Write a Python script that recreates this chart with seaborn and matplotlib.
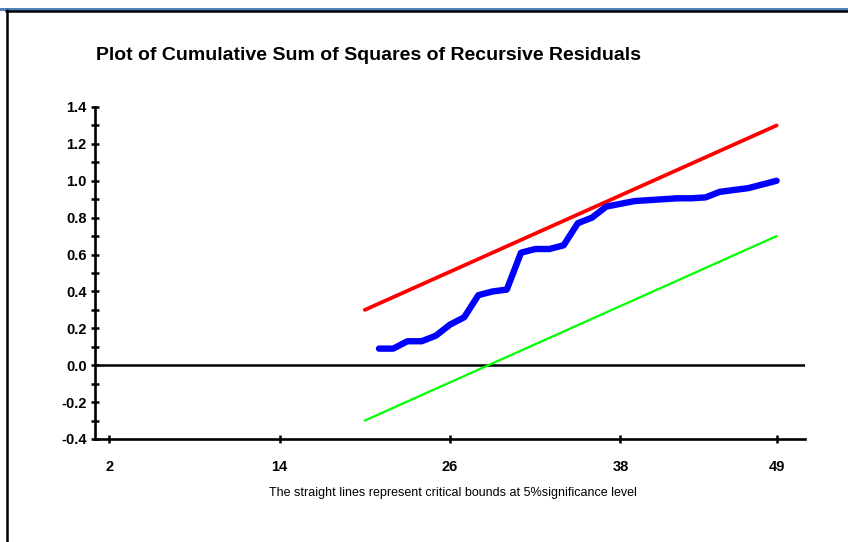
import numpy as np
import pandas as pd
import matplotlib
matplotlib.use('Agg')
import matplotlib.pyplot as plt
from matplotlib.lines import Line2D
from matplotlib.ticker import MultipleLocator
import seaborn as sns

# Valores (CUSUM dos quadrados dos resíduos recursivos)
t_obs = [21, 22, 23, 24, 25, 26, 27, 28, 29, 30, 31, 32, 33, 34, 35,
         36, 37, 38, 39, 40, 41, 42, 43, 44, 45, 46, 47, 48, 49]
cusumsq = [0.09, 0.09, 0.13, 0.13, 0.16, 0.22, 0.26, 0.38, 0.40, 0.41, 0.61, 0.63, 0.63, 0.65, 0.77,
           0.80, 0.86, 0.875, 0.89, 0.895, 0.90, 0.905, 0.905, 0.91, 0.94, 0.95, 0.96, 0.98, 1.00]

# Limites críticos a 5% (retas)
t_bound = [20, 49]
upper_bound = [0.30, 1.30]
lower_bound = [-0.30, 0.70]

x_ticks = [2, 14, 26, 38, 49]

titulo = 'Plot of Cumulative Sum of Squares of Recursive Residuals'
nota = 'The straight lines represent critical bounds at 5%significance level'

sns.set_style('white')
plt.rcParams['font.family'] = ['Liberation Sans', 'DejaVu Sans']
plt.rcParams['text.color'] = 'black'
plt.rcParams['xtick.color'] = 'black'
plt.rcParams['ytick.color'] = 'black'
plt.rcParams['xtick.labelcolor'] = 'black'
plt.rcParams['ytick.labelcolor'] = 'black'

fig = plt.figure(figsize=(8.48, 5.42), dpi=100)
ax = fig.add_axes([95 / 848, 1 - 439 / 542, (805 - 95) / 848, (439 - 107) / 542])

df_obs = pd.DataFrame({'t': t_obs, 'v': cusumsq})
df_b = pd.DataFrame({'t': t_bound, 'up': upper_bound, 'lo': lower_bound})

sns.lineplot(data=df_b, x='t', y='up', color='#ff0000', linewidth=2.7, ax=ax)
sns.lineplot(data=df_b, x='t', y='lo', color='#00ff00', linewidth=1.6, ax=ax)
sns.lineplot(data=df_obs, x='t', y='v', color='#0000ff', linewidth=4.6, ax=ax)
ax.axhline(0, color='black', linewidth=1.8, zorder=1)

ax.set_xlim(1, 51)
ax.set_ylim(-0.4, 1.4)
ax.set_xticks(x_ticks)
ax.yaxis.set_major_locator(MultipleLocator(0.2))
ax.yaxis.set_minor_locator(MultipleLocator(0.1))
ax.set_yticklabels([f'{v:.1f}' for v in ax.get_yticks()])
ax.set_xlabel('')
ax.set_ylabel('')

for s in ['top', 'right']:
    ax.spines[s].set_visible(False)
for s in ['left', 'bottom']:
    ax.spines[s].set_color('black')
    ax.spines[s].set_linewidth(1.9)

ax.tick_params(axis='y', which='both', direction='inout', length=6, width=1.8, left=True,
               labelsize=10.5, pad=3, colors='black')
ax.tick_params(axis='x', which='major', direction='inout', length=6, width=1.8, bottom=True,
               labelsize=10.5, pad=12, colors='black')
for lbl in ax.get_xticklabels() + ax.get_yticklabels():
    lbl.set_fontweight('bold')

fig.text(96 / 848, 1 - 55 / 542, titulo, fontsize=14, fontweight='bold', va='center', ha='left',
         color='black')
fig.text(453 / 848, 1 - 493 / 542, nota, fontsize=9, va='center', ha='center', color='black')

# moldura
fig.add_artist(Line2D([0, 1], [1 - 8.5 / 542, 1 - 8.5 / 542], color='#4f81bd', linewidth=2.2))
fig.add_artist(Line2D([6 / 848, 1], [1 - 11 / 542, 1 - 11 / 542], color='black', linewidth=1.8))
fig.add_artist(Line2D([7 / 848, 7 / 848], [0, 1 - 10 / 542], color='black', linewidth=1.8))

fig.savefig('out.png', dpi=100)
